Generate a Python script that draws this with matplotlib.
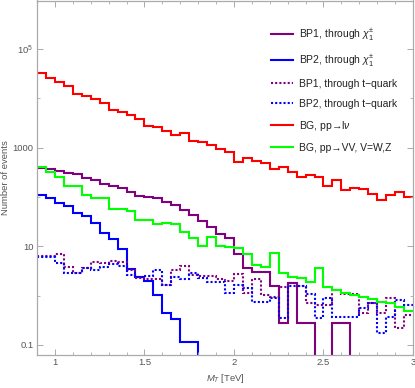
import matplotlib
matplotlib.use("Agg")
import matplotlib.pyplot as plt
import numpy as np
from matplotlib.ticker import FixedLocator, NullFormatter

plt.rcParams['font.family'] = ['Liberation Sans', 'DejaVu Sans']
plt.rcParams['mathtext.fontset'] = 'custom'
plt.rcParams['mathtext.rm'] = 'Liberation Sans'
plt.rcParams['mathtext.it'] = 'Liberation Sans:italic'

# M_T histogram, 42 bins of 0.05 TeV from 0.9 to 3.0 TeV
mt_lo, mt_hi, n_bins = 0.9, 3.0, 42

bp1_chi = [390, 372, 344, 313, 295, 248, 223, 187, 171, 151,
           127, 104, 101, 96, 81, 69, 55, 43.4, 32.8, 24.8,
           17.9, 14.8, 6.9, 3.6, 3.07, 3.07, 1.57, 0.275, 1.84, 0.275,
           0.275, 0, 0, 0.275, 0.275, 0, 0, 0, 0, 0,
           0, 0]
bp2_chi = [110, 94.7, 77, 66, 47, 41.4, 30.3, 19.0, 14.2, 8.87,
           3.44, 2.43, 2.01, 1.03, 0.446, 0.337, 0.117, 0.117, 0, 0,
           0, 0, 0, 0, 0, 0, 0, 0, 0, 0,
           0, 0, 0, 0, 0, 0, 0, 0, 0, 0,
           0, 0]
bp1_top = [6.39, 6.39, 6.92, 3.88, 2.85, 3.70, 4.90, 4.67, 5.13, 4.90,
           3.32, 2.25, 2.15, 2.15, 1.65, 3.32, 4.06, 2.63, 2.51, 2.51,
           2.15, 1.99, 2.76, 1.12, 2.18, 1.03, 0.93, 1.52, 1.84, 1.57,
           0.70, 0.65, 0.65, 1.31, 1.08, 1.08, 0.44, 0.70, 0.445, 0.885,
           0.218, 0.405]
bp2_top = [6.10, 6.10, 4.67, 2.93, 2.93, 3.70, 3.32, 3.88, 4.40, 4.01,
           2.63, 2.43, 2.51, 3.32, 1.65, 2.36, 2.15, 2.85, 2.29, 1.92,
           1.90, 1.12, 1.65, 1.41, 0.755, 0.755, 0.91, 0.35, 1.57, 1.57,
           1.08, 0.35, 0.91, 0.365, 0.365, 0.365, 0.555, 0.72, 0.177, 0.365,
           0.82, 0.65]
bg_lnu = [33500, 25800, 21700, 17700, 12600, 11300, 9660, 8130, 5780, 5270,
          4640, 3800, 2820, 2690, 2230, 1800, 1970, 1380, 1310, 1140,
          935, 813, 509, 631, 548, 486, 378, 409, 324, 256,
          277, 260, 168, 223, 140, 153, 144, 114, 86, 110,
          127, 99]
bg_vv = [399, 319, 256, 168, 168, 110, 94.7, 94.7, 57.4, 57.4,
         53, 34.4, 34.4, 28.5, 29.9, 27.9, 19.9, 15.0, 10.4, 15.3,
         10.2, 9.87, 9.16, 7.0, 4.2, 3.77, 7.46, 2.93, 2.36, 2.25,
         1.92, 3.6, 1.48, 1.31, 1.15, 1.03, 0.955, 0.845, 0.755, 0.72,
         0.58, 0.50]

labels = ['BP1, through $\\chi_1^{\\pm}$',
          'BP2, through $\\chi_1^{\\pm}$',
          'BP1, through t\u2212quark',
          'BP2, through t\u2212quark',
          'BG, pp\u2192l$\\nu$',
          'BG, pp\u2192VV, V=W,Z']
colors = ['#800080', '#0000ff', '#800080', '#0000ff', '#ff0000', '#00ff00']
styles = ['-', '-', (0, (1, 1)), (0, (1, 1)), '-', '-']

x_ticks = [1, 1.5, 2, 2.5, 3]
y_ticks = [0.1, 10, 1000, 1e5]
y_ticklabels = ['0.1', '10', '1000', '$10^5$']
y_minor = [1, 100, 1e4]

edges = np.linspace(mt_lo, mt_hi, n_bins + 1)

fig = plt.figure(figsize=(4.15, 3.88), dpi=100)
ax = fig.add_axes([37 / 415, 1 - 355 / 388, 376 / 415, 354.5 / 388])

for vals, lab, col, ls in zip([bp1_chi, bp2_chi, bp1_top, bp2_top, bg_lnu, bg_vv],
                              labels, colors, styles):
    v = np.array(vals, dtype=float)
    v = np.where(v > 0, v, 1e-4)  # empty bins drop off the bottom
    ax.stairs(v, edges, baseline=None, color=col, linestyle=ls, lw=1.5, label=lab)

ax.set_yscale('log')
ax.set_xlim(mt_lo, mt_hi)
ax.set_ylim(0.0626, 9.7e5)

ax.set_xticks(x_ticks)
ax.set_xticklabels([str(t) for t in x_ticks])
ax.xaxis.set_minor_locator(FixedLocator(np.arange(0.9, 3.01, 0.1)))
ax.yaxis.set_major_locator(FixedLocator(y_ticks))
ax.set_yticklabels(y_ticklabels)
ax.yaxis.set_minor_locator(FixedLocator(y_minor))
ax.yaxis.set_minor_formatter(NullFormatter())

ax.tick_params(which='both', direction='in', top=True, right=True,
               color='#aaaaaa', labelcolor='#555555', labelsize=6.8, pad=2.5)
ax.tick_params(which='major', length=4, width=0.7)
ax.tick_params(which='minor', length=2.2, width=0.6)
for s in ax.spines.values():
    s.set_color('#aaaaaa')
    s.set_linewidth(0.9)

ax.set_xlabel('$M_T$ [TeV]', fontsize=6.8, color='#555555', labelpad=3)
ax.set_ylabel('Number of events', fontsize=6.8, color='#555555', labelpad=2)

ax.legend(loc='upper left', bbox_to_anchor=(271 / 415, 1 - 27 / 388),
          bbox_transform=fig.transFigure, frameon=False, fontsize=7.5,
          borderpad=0, borderaxespad=0, handlelength=2.1, handletextpad=0.62,
          labelspacing=0.95, labelcolor='#222222')

fig.savefig('out.png', dpi=100)
